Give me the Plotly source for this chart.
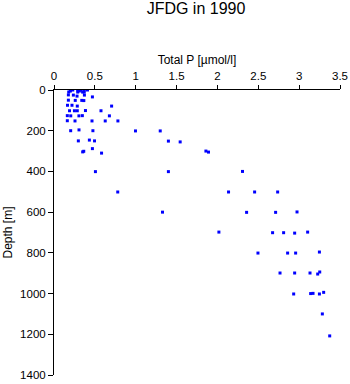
import plotly.graph_objects as go

# Total P [µmol/l] readings and matching sampling depths [m]
total_p = [
    0.20, 0.23, 0.29, 0.33, 0.37, 0.41,
    0.20, 0.31,
    0.18, 0.29, 0.35, 0.37,
    0.176, 0.237, 0.282, 0.372, 0.47,
    0.176, 0.26, 0.34, 0.365,
    0.165, 0.22, 0.285, 0.705,
    0.19, 0.25, 0.285, 0.385, 0.575,
    0.163, 0.205, 0.305, 0.347, 0.678,
    0.163, 0.257, 0.465, 0.627, 0.782,
    0.204, 0.306, 0.476, 0.997, 1.30,
    0.298, 0.433, 0.496, 1.40, 1.544,
    0.47,
    0.351, 0.364, 0.582, 1.859, 1.891,
    0.507, 1.40, 2.307,
    0.78, 2.136, 2.455, 2.737,
    1.328, 2.357, 2.712, 2.974,
    2.018, 2.675, 2.81, 2.945, 3.104,
    2.496, 2.859, 2.957, 3.248,
    2.766, 2.945, 3.133, 3.252, 3.227,
    2.933, 3.141, 3.17, 3.248, 3.30,
    3.284,
    3.374,
]
depth_m = [
    0, 0, 0, 0, 0, 0,
    5, 5,
    10, 10, 10, 10,
    24, 25, 30, 25, 34,
    50, 51, 51, 52,
    75, 75, 79, 79,
    102, 102, 102, 101, 102,
    126, 127, 127, 126, 127,
    151, 152, 152, 152, 152,
    200, 196, 200, 201, 201,
    250, 246, 250, 251, 255,
    288,
    304, 301, 310, 300, 305,
    401, 401, 400,
    501, 501, 501, 501,
    600, 601, 601, 599,
    698, 701, 701, 703, 698,
    801, 801, 801, 796,
    899, 899, 899, 894, 904,
    1002, 1000, 999, 1002, 994,
    1100,
    1208,
]

x_ticks = [0, 0.5, 1, 1.5, 2, 2.5, 3, 3.5]
y_ticks = [0, 200, 400, 600, 800, 1000, 1200, 1400]

FONT = "Liberation Sans, Arial, Helvetica, sans-serif"

fig = go.Figure(
    go.Scatter(
        x=total_p,
        y=depth_m,
        mode="markers",
        marker=dict(symbol="square", size=3, color="#0000ff", line=dict(width=0)),
        hoverinfo="x+y",
    )
)

fig.update_layout(
    width=350,
    height=384,
    margin=dict(l=54, r=10, t=90, b=9, pad=0),
    paper_bgcolor="white",
    plot_bgcolor="white",
    showlegend=False,
    font=dict(family=FONT, size=11.5, color="black"),
    title=dict(
        text="JFDG in 1990",
        x=0.56,
        xanchor="center",
        y=1 - 8.5 / 384,
        yanchor="middle",
        yref="container",
        font=dict(family=FONT, size=16, color="black"),
    ),
    xaxis=dict(
        side="top",
        range=[0, 3.5],
        tickvals=x_ticks,
        ticktext=[f"{v:g}" for v in x_ticks],
        showline=True,
        linecolor="black",
        linewidth=1,
        ticks="outside",
        ticklen=4,
        tickcolor="black",
        showgrid=False,
        zeroline=False,
        title=dict(text="Total P [µmol/l]", standoff=3, font=dict(size=12)),
        automargin=False,
    ),
    yaxis=dict(
        range=[1400, 0],
        tickvals=y_ticks,
        ticktext=[str(v) for v in y_ticks],
        showline=True,
        linecolor="black",
        linewidth=1,
        ticks="outside",
        ticklen=5,
        tickcolor="black",
        showgrid=False,
        zeroline=False,
        title=dict(text="Depth [m]", standoff=4, font=dict(size=12)),
        automargin=False,
    ),
)

fig.write_html("out.html")
